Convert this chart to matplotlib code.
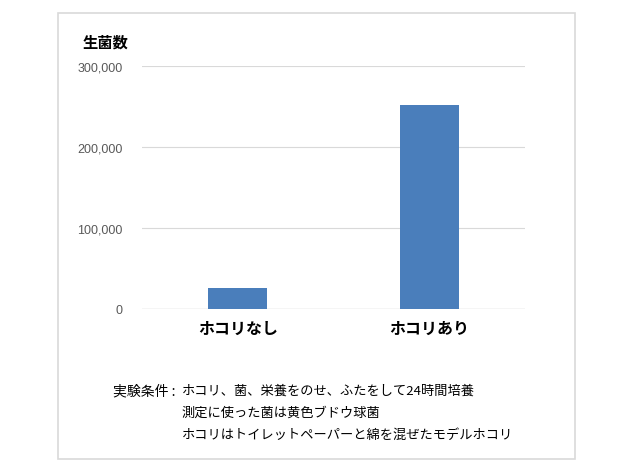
import matplotlib
matplotlib.use('Agg')
import matplotlib.pyplot as plt
from matplotlib.patches import Rectangle
from matplotlib.ticker import FuncFormatter

plt.rcParams['font.family'] = ['Noto Sans CJK JP', 'DejaVu Sans']

# data
categories = ['ホコリなし', 'ホコリあり']
counts = [26000, 252000]
yticks = [0, 100000, 200000, 300000]
ylabel = '生菌数'
cond_head = '実験条件 :'
cond_lines = ['ホコリ、菌、栄養をのせ、ふたをして24時間培養',
              '測定に使った菌は黄色ブドウ球菌',
              'ホコリはトイレットペーパーと綿を混ぜたモデルホコリ']

fig = plt.figure(figsize=(6.4, 4.77), dpi=100)
W, H = 640, 477

# outer frame
fig.patches.append(Rectangle((58 / W, 1 - 460 / H), (575 - 58) / W, (460 - 14) / H,
                             transform=fig.transFigure, fill=False,
                             edgecolor='#d9d9d9', lw=1.2))

ax = fig.add_axes([142 / W, 1 - 310 / H, (525 - 142) / W, (310 - 67) / H])
x = range(len(categories))
ax.bar(x, counts, width=0.31, color='#4a7ebb', zorder=3)
ax.set_xlim(-0.5, 1.5)
ax.set_ylim(0, 300000)
ax.set_yticks(yticks)
ax.yaxis.set_major_formatter(FuncFormatter(lambda v, p: f'{int(v):,}'))
ax.set_xticks(list(x))
ax.set_xticklabels(categories, fontsize=11.5, fontweight='bold', color='black')
ax.tick_params(axis='x', length=0, pad=8)
ax.tick_params(axis='y', length=0, pad=14, labelcolor='#595959')
for lbl in ax.get_yticklabels():
    lbl.set_fontfamily('Liberation Sans')
    lbl.set_fontsize(9)
ax.grid(axis='y', color='#d9d9d9', lw=0.8, zorder=0)
for s in ax.spines.values():
    s.set_visible(False)
ax.axhline(0, color='#d9d9d9', lw=1, zorder=2)

fig.text(83 / W, 1 - 43 / H, ylabel, fontsize=11, fontweight='bold', va='center', ha='left')

fig.text(113 / W, 1 - 391 / H, cond_head, fontsize=10, va='center', ha='left')
for i, line in enumerate(cond_lines):
    fig.text(182 / W, 1 - (391 + 22 * i) / H, line, fontsize=9.5, va='center', ha='left')

fig.savefig('out.png', dpi=100)
